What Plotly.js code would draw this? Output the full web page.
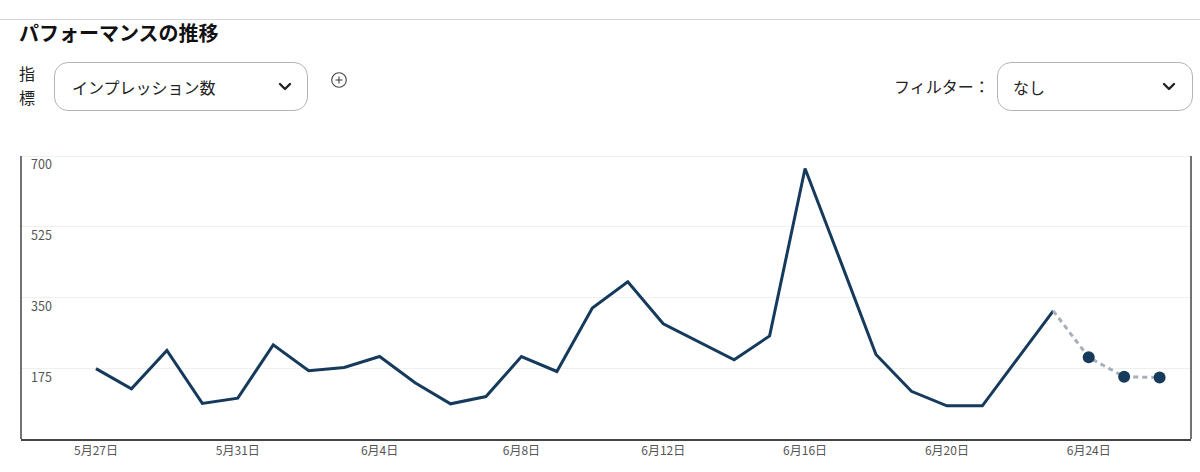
<!DOCTYPE html>
<html lang="ja">
<head>
<meta charset="utf-8">
<script src="https://cdn.plot.ly/plotly-3.0.1.min.js"></script>
<style>
  html, body { margin: 0; padding: 0; background: #fff; }
  body { width: 1200px; height: 472px; position: relative; overflow: hidden;
         font-family: "Noto Sans CJK JP", "Noto Sans", sans-serif; color: #222; }
  .topline { position: absolute; left: 0; top: 19px; width: 1200px; height: 1px; background: #d6d6d6; }
  .title { position: absolute; left: 19px; top: 21px; font-size: 20px; font-weight: bold; line-height: 24px; color: #111; }
  .metric-label { position: absolute; left: 19px; top: 62px; font-size: 16px; line-height: 23.5px; width: 18px; color: #222; }
  .select { position: absolute; box-sizing: border-box; border: 1px solid #b4b4b4; border-radius: 14px; background: #fff; }
  .select span { position: absolute; font-size: 16px; line-height: 20px; top: 14px; color: #222; }
  .select svg { position: absolute; }
  .filter-label { position: absolute; left: 894px; top: 76px; font-size: 16px; line-height: 20px; color: #222; }
  .plus { position: absolute; left: 330px; top: 71px; }
  #chart { position: absolute; left: 0; top: 140px; width: 1200px; height: 332px; }
</style>
</head>
<body>
<div class="topline"></div>
<div class="title">パフォーマンスの推移</div>
<div class="metric-label">指<br>標</div>
<div class="select" style="left:54px; top:62px; width:254px; height:49px;">
  <span style="left:17px;">インプレッション数</span>
  <svg style="left:223px; top:19px;" width="14" height="10" viewBox="0 0 14 10">
    <polyline points="2,2 7,7 12,2" fill="none" stroke="#222" stroke-width="2.4" stroke-linecap="round" stroke-linejoin="round"/>
  </svg>
</div>
<svg class="plus" width="18" height="18" viewBox="0 0 18 18">
  <circle cx="9" cy="9" r="7.3" fill="none" stroke="#444" stroke-width="1.1"/>
  <line x1="5.5" y1="9" x2="12.5" y2="9" stroke="#444" stroke-width="1.1"/>
  <line x1="9" y1="5.5" x2="9" y2="12.5" stroke="#444" stroke-width="1.1"/>
</svg>
<div class="filter-label">フィルター：</div>
<div class="select" style="left:997px; top:62px; width:196px; height:49px;">
  <span style="left:15px;">なし</span>
  <svg style="left:164px; top:19px;" width="14" height="10" viewBox="0 0 14 10">
    <polyline points="2,2 7,7 12,2" fill="none" stroke="#222" stroke-width="2.4" stroke-linecap="round" stroke-linejoin="round"/>
  </svg>
</div>
<div id="chart"></div>
<script>
// ---- data ----
const actualDates = [
  '2024-05-27','2024-05-28','2024-05-29','2024-05-30','2024-05-31',
  '2024-06-01','2024-06-02','2024-06-03','2024-06-04','2024-06-05',
  '2024-06-06','2024-06-07','2024-06-08','2024-06-09','2024-06-10',
  '2024-06-11','2024-06-12','2024-06-13','2024-06-14','2024-06-15',
  '2024-06-16','2024-06-17','2024-06-18','2024-06-19','2024-06-20',
  '2024-06-21','2024-06-22','2024-06-23'
];
const actualValues = [
  174, 124, 219, 88, 101,
  233, 169, 177, 204, 139,
  87, 105, 204, 167, 324,
  389, 285, 241, 196, 255,
  669, 440, 209, 118, 82,
  82, 199, 317
];
const forecastDates = ['2024-06-24','2024-06-25','2024-06-26'];
const forecastValues = [202, 154, 152];

const xTickVals = ['2024-05-27','2024-05-31','2024-06-04','2024-06-08','2024-06-12','2024-06-16','2024-06-20','2024-06-24'];
const xTickText = ['5月27日','5月31日','6月4日','6月8日','6月12日','6月16日','6月20日','6月24日'];
const yTickVals = [175, 350, 525, 700];
const yTickText = ['175', '350', '525', '700'];

// ---- chart ----
const navy = '#163a5c';
const frameColor = '#444';
const lastIdx = actualDates.length - 1;
const yTop = yTickVals[yTickVals.length - 1];

const traces = [
  {
    x: actualDates, y: actualValues, type: 'scatter', mode: 'lines',
    line: { color: navy, width: 3 }, hoverinfo: 'x+y', showlegend: false
  },
  {
    x: [actualDates[lastIdx]].concat(forecastDates),
    y: [actualValues[lastIdx]].concat(forecastValues),
    type: 'scatter', mode: 'lines',
    line: { color: '#a6afba', width: 3, dash: '5px,4px' }, showlegend: false
  },
  {
    x: forecastDates, y: forecastValues, type: 'scatter', mode: 'markers',
    marker: { color: navy, size: 12 }, showlegend: false
  }
];

const layout = {
  width: 1200, height: 332,
  margin: { l: 21, r: 9, t: 4, b: 33, pad: 0 },
  paper_bgcolor: 'rgba(0,0,0,0)', plot_bgcolor: 'rgba(0,0,0,0)',
  font: { family: '"Noto Sans CJK JP", "Noto Sans", sans-serif', size: 12, color: '#555' },
  showlegend: false,
  xaxis: {
    type: 'date',
    range: ['2024-05-24 21:15', '2024-06-26 21:15'],
    tickvals: xTickVals, ticktext: xTickText,
    showgrid: false, zeroline: false,
    showline: true, linecolor: frameColor, linewidth: 1.5,
    ticks: '', tickfont: { size: 12, color: '#555' }
  },
  yaxis: {
    range: [0, 729.7],
    tickvals: yTickVals, ticktext: yTickText,
    showgrid: true, gridcolor: '#efefef', gridwidth: 1,
    zeroline: false, showline: false,
    ticks: '', ticklabelposition: 'inside',
    ticklabelstandoff: 7, ticklabelshift: 9,
    tickfont: { size: 12.5, color: '#555' }
  },
  shapes: [
    { type: 'line', xref: 'paper', x0: 0, x1: 0, yref: 'y', y0: 0, y1: yTop,
      line: { color: frameColor, width: 1.5 }, layer: 'above' },
    { type: 'line', xref: 'paper', x0: 1, x1: 1, yref: 'y', y0: 0, y1: yTop,
      line: { color: frameColor, width: 1.5 }, layer: 'above' }
  ]
};

Plotly.newPlot('chart', traces, layout, { staticPlot: true, displayModeBar: false });
</script>
</body>
</html>
